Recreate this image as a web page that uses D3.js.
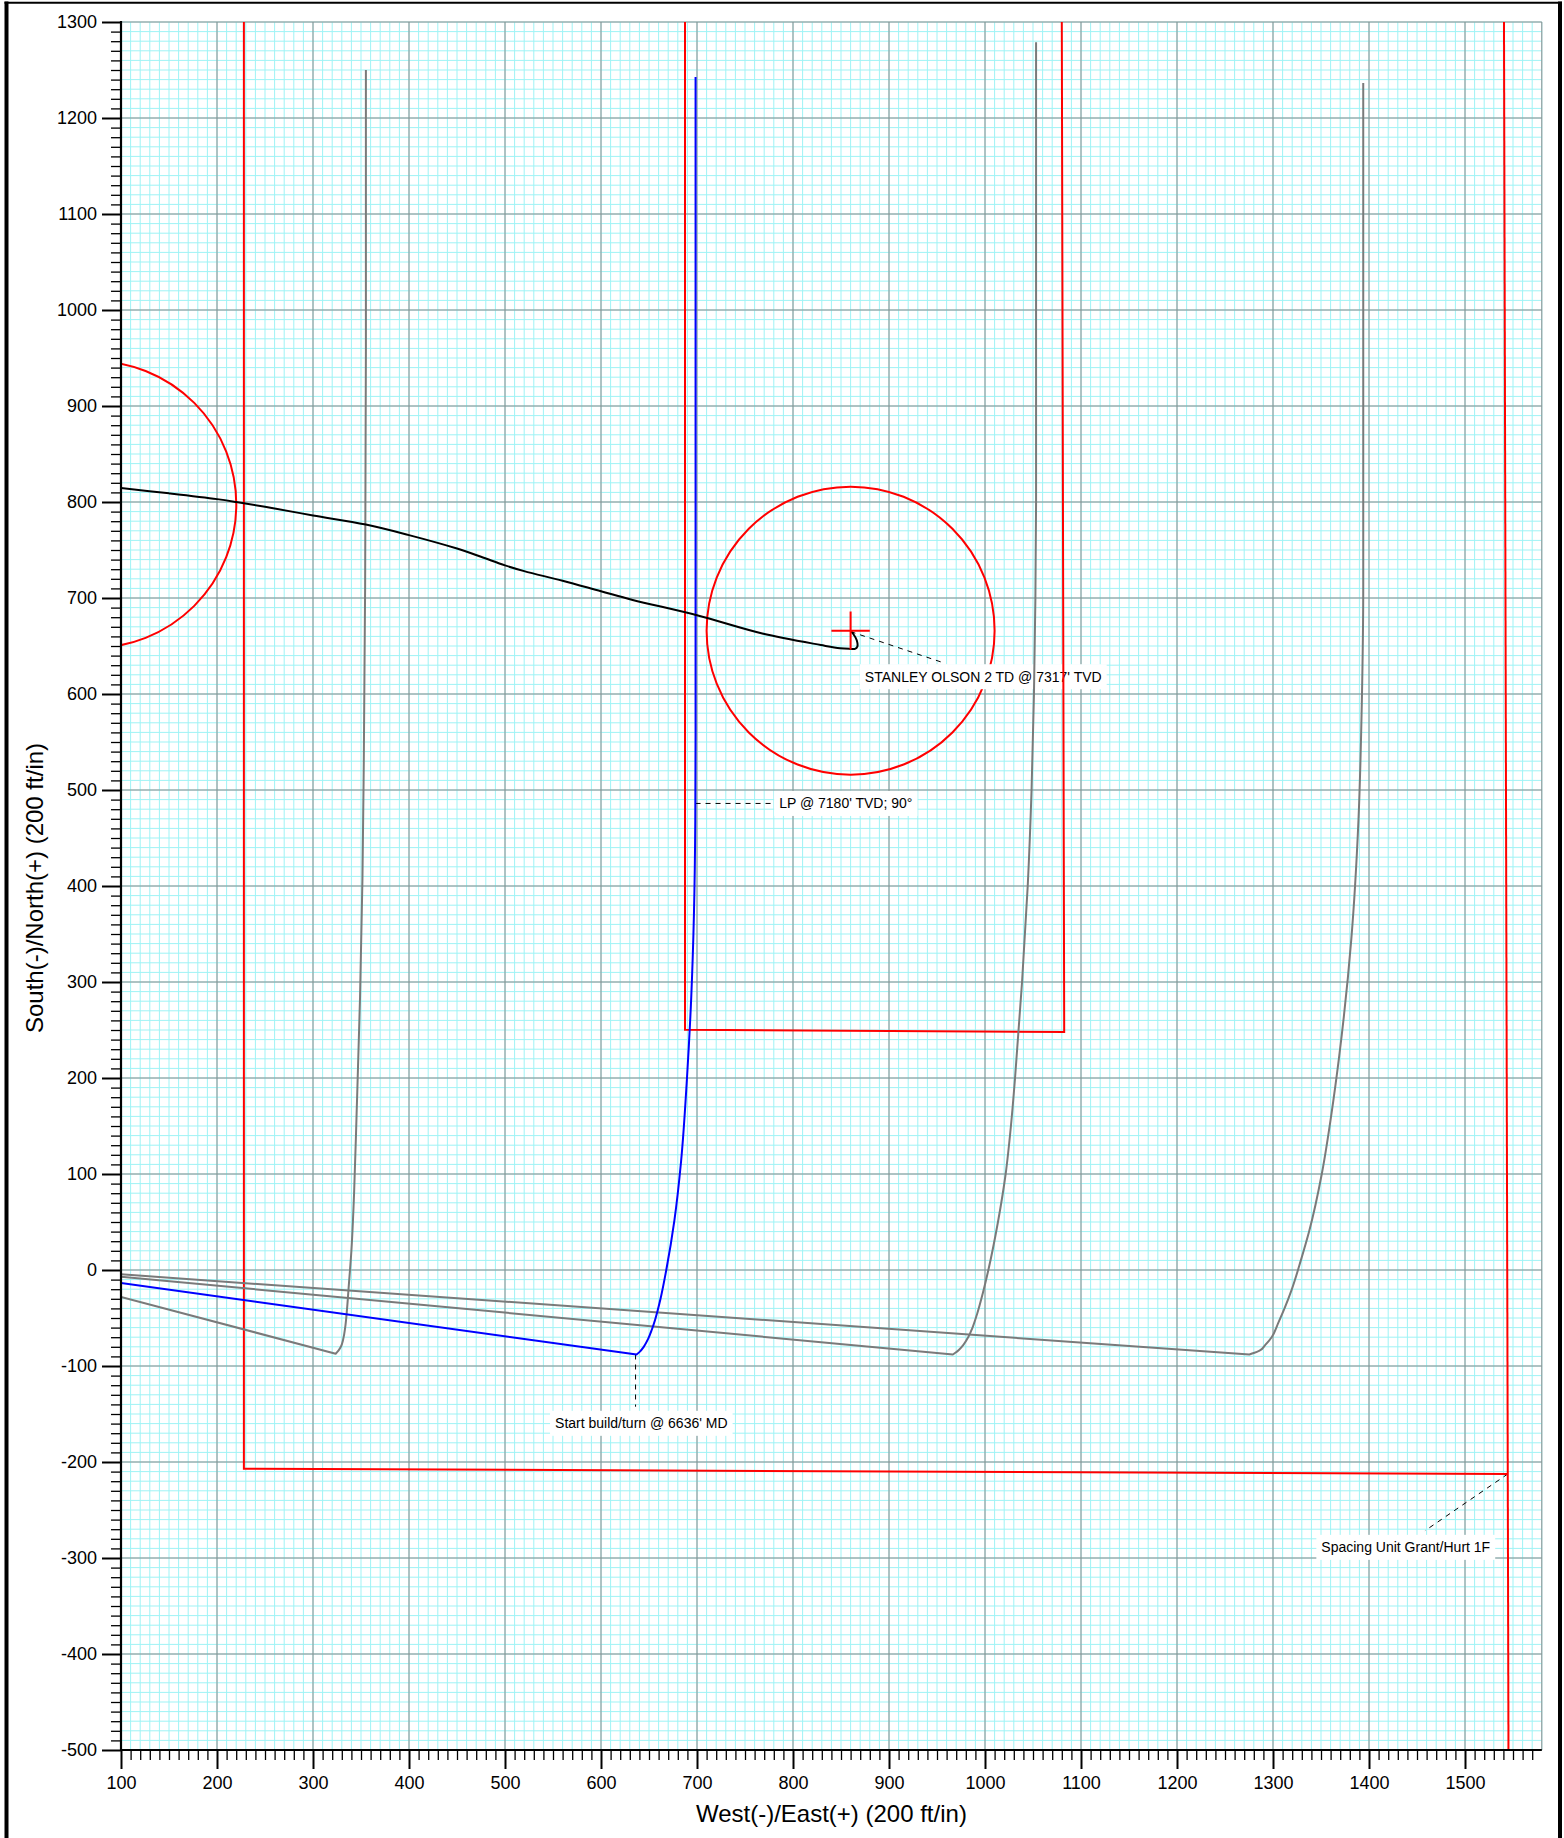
<!DOCTYPE html>
<html><head><meta charset="utf-8">
<script src="https://cdn.jsdelivr.net/npm/d3@7"></script>
<style>
body{margin:0;background:#fff}
svg{display:block}
text{font-family:Arial,"Liberation Sans",sans-serif;fill:#000}
</style>
</head><body>
<svg id="chart" width="1564" height="1838"></svg>
<script>
// ---------- data ----------
const xDomain = [100, 1580];
const yDomain = [-500, 1300];
const xTickValues = d3.range(100, 1501, 100);
const yTickValues = d3.range(-500, 1301, 100);
const minorStep = 10;

// offset well (black) - STANLEY OLSON 2
const blackWell = [[100,814.5],[150,809],[200,803],[220,800],[250,795],[300,786],[355,776.5],[400,765.5],[450,751.5],[475,743],[500,734],[520,728],[560,718],[600,707],[633,698],[700,682],[768,663],[829,651],[849,647.6],[859.4,647],[864.6,647],[867,649.3],[866.4,656],[862.8,662.5],[860,665.6]];

// planned wells: tangent start, bottom (start build/turn), then build curve to lateral end
const blueStart = [100,-13.5];
const blueCurve = [[637,-88],[640.5,-85],[644.5,-80],[649,-72],[653,-62],[656.3,-52],[662,-30],[668,0],[676.5,52],[683.4,113],[689.5,199],[694,284],[696.8,370],[698.2,468],[698.5,560],[698.5,1242.6]];

const grey1Start = [100,-28.1];
const grey1Curve = [[323.6,-87.2],[326.5,-84],[329,-80],[331.5,-72],[333.5,-60],[335.5,-40],[337,-20],[340,20],[342.8,80],[345.4,162],[349,284],[351.5,407],[352.9,529],[354.3,712],[355.1,957],[355.1,1250]];
const grey2Start = [100,-7];
const grey2Curve = [[966.6,-88],[969.5,-86],[973,-83],[977.5,-78],[982.5,-70],[987,-60],[992,-45],[997.5,-25],[1003.5,0],[1013.5,50],[1021.5,100],[1027,150],[1031.3,200],[1038.6,300],[1044.5,400],[1048.5,500],[1051,600],[1052.5,700],[1053.2,800],[1053.2,1279]];
const grey3Start = [100,-4.5];
const grey3Curve = [[1275.4,-88],[1280,-86.5],[1286,-84],[1292,-78],[1298.6,-70],[1305.5,-55],[1312,-40],[1319.3,-21],[1329,10],[1337.6,40],[1351,101],[1360.5,160],[1369,223],[1381.6,345],[1389,468],[1392.5,590],[1394,712],[1394,1236.5]];

// boundaries (red)
const spacingUnit = [[228,1300],[228,-207],[1544.5,-212.5]];
const spacingUnitEast = [[1540.6,1300],[1545.3,-500]];
const hardlines = [[687.5,1300],[687.5,250.3],[1082.5,247.8],[1080,1300]];
const circles = [{cx:860, cy:666, r:150},{cx:70.6, cy:797.5, r:149.5}];
const targetCross = {x:860, y:666, size:20};

// annotations
const labels = [
  {text:"STANLEY OLSON 2 TD @ 7317' TVD", x:998.2, y:618, from:[860,665], to:[958.3,632]},
  {text:"LP @ 7180' TVD; 90°", x:855, y:486, from:[698.5,486], to:[781,486]},
  {text:"Start build/turn @ 6636' MD", x:642, y:-159.7, from:[636,-88], to:[636,-142.4]},
  {text:"Spacing Unit Grant/Hurt 1F", x:1438.3, y:-288.9, from:[1544.5,-212.5], to:[1458.3,-271.6]}
];

// ---------- drawing ----------
const svg = d3.select("#chart");
const x = d3.scaleLinear().domain(xDomain).range([121, 1541.8]);
const y = d3.scaleLinear().domain(yDomain).range([1750, 22]);

svg.append("defs").append("clipPath").attr("id","plotClip")
  .append("rect").attr("x",x(xDomain[0])).attr("y",y(yDomain[1]))
  .attr("width",x(xDomain[1])-x(xDomain[0])).attr("height",y(yDomain[0])-y(yDomain[1]));

// outer frame
svg.append("line").attr("x1",6.5).attr("x2",6.5).attr("y1",1.5).attr("y2",1838).attr("stroke","#000").attr("stroke-width",4);
svg.append("line").attr("x1",1560).attr("x2",1560).attr("y1",1.5).attr("y2",1838).attr("stroke","#000").attr("stroke-width",4);
svg.append("line").attr("x1",4.5).attr("x2",1562).attr("y1",2.8).attr("y2",2.8).attr("stroke","#000").attr("stroke-width",2);

const plot = svg.append("g");

// minor grid
const minorX = d3.range(xDomain[0], xDomain[1] + 0.1, minorStep);
const minorY = d3.range(yDomain[0], yDomain[1] + 0.1, minorStep);
const gMinor = plot.append("g").attr("stroke","#9ff3f5").attr("stroke-width",1);
gMinor.selectAll("line.vx").data(minorX).join("line")
  .attr("x1",d=>x(d)).attr("x2",d=>x(d)).attr("y1",y(yDomain[0])).attr("y2",y(yDomain[1]));
gMinor.selectAll("line.hy").data(minorY).join("line")
  .attr("y1",d=>y(d)).attr("y2",d=>y(d)).attr("x1",x(xDomain[0])).attr("x2",x(xDomain[1]));

// major grid
const gMajor = plot.append("g").attr("stroke","#8c8c8c").attr("stroke-width",1);
gMajor.selectAll("line.mx").data(xTickValues.concat([xDomain[1]])).join("line")
  .attr("x1",d=>x(d)).attr("x2",d=>x(d)).attr("y1",y(yDomain[0])).attr("y2",y(yDomain[1]));
gMajor.selectAll("line.my").data(yTickValues).join("line")
  .attr("y1",d=>y(d)).attr("y2",d=>y(d)).attr("x1",x(xDomain[0])).attr("x2",x(xDomain[1]));

const clipped = plot.append("g").attr("clip-path","url(#plotClip)");

// circles
clipped.selectAll("circle.lease").data(circles).join("circle")
  .attr("cx",d=>x(d.cx)).attr("cy",d=>y(d.cy)).attr("r",d=>x(d.cx+d.r)-x(d.cx))
  .attr("fill","none").attr("stroke","#ff0000").attr("stroke-width",2);

// labels (white boxes under the lines)
const gLab = clipped.append("g");
labels.forEach(l => {
  gLab.append("line").attr("x1",x(l.from[0])).attr("y1",y(l.from[1]))
    .attr("x2",x(l.to[0])).attr("y2",y(l.to[1]))
    .attr("stroke","#000").attr("stroke-width",1).attr("stroke-dasharray","5,5");
  const g = gLab.append("g");
  const r = g.append("rect").attr("fill","#fff");
  const t = g.append("text").attr("x",x(l.x)).attr("y",y(l.y)).attr("dy","0.35em")
    .attr("text-anchor","middle").style("font-size","14px").text(l.text);
  const b = t.node().getBBox();
  r.attr("x",b.x-5).attr("y",y(l.y)-12.5).attr("width",b.width+10).attr("height",25);
});

const line = d3.line().x(d=>x(d[0])).y(d=>y(d[1]));
const smooth = d3.line().x(d=>x(d[0])).y(d=>y(d[1])).curve(d3.curveCatmullRom.alpha(0.5));
// build curves: monotone in y (drawn top -> bottom so pixel y increases)
const build = d3.line().x(d=>x(d[0])).y(d=>y(d[1])).curve(d3.curveMonotoneY);

// red boundaries
[spacingUnit, spacingUnitEast, hardlines].forEach(p => {
  clipped.append("path").attr("d",line(p)).attr("fill","none")
    .attr("stroke","#ff0000").attr("stroke-width",2);
});

function drawWell(start, curve, color, w) {
  const top = curve.slice().reverse();
  const d = build(top) + "L" + x(start[0]) + "," + y(start[1]);
  clipped.append("path").attr("d",d).attr("fill","none")
    .attr("stroke",color).attr("stroke-width",w).attr("stroke-linejoin","round");
}
drawWell(grey1Start, grey1Curve, "#7a7a7a", 2);
drawWell(grey2Start, grey2Curve, "#7a7a7a", 2);
drawWell(grey3Start, grey3Curve, "#7a7a7a", 2);
drawWell(blueStart, blueCurve, "#0000ff", 2);

clipped.append("path").attr("d",smooth(blackWell)).attr("fill","none")
  .attr("stroke","#000").attr("stroke-width",2);

// red cross
const s = targetCross.size;
clipped.append("path")
  .attr("d",line([[targetCross.x-s,targetCross.y],[targetCross.x+s,targetCross.y]]) + line([[targetCross.x,targetCross.y-s],[targetCross.x,targetCross.y+s]]))
  .attr("fill","none").attr("stroke","#ff0000").attr("stroke-width",2);

// axes
const minorTicksX = d3.range(100, 1571, 10).filter(v => v % 100 !== 0);
const minorTicksY = d3.range(-500, 1301, 10).filter(v => v % 100 !== 0);
const fmt = d => String(d);

const axY = svg.append("g").attr("transform",`translate(${x(xDomain[0])},0)`);
axY.call(d3.axisLeft(y).tickValues(minorTicksY).tickSize(10).tickSizeOuter(0).tickFormat(""));
const axYMajor = axY.append("g").call(d3.axisLeft(y).tickValues(yTickValues).tickSize(19).tickSizeOuter(0).tickPadding(5).tickFormat(fmt));
const axX = svg.append("g").attr("transform",`translate(0,${y(yDomain[0])})`);
axX.call(d3.axisBottom(x).tickValues(minorTicksX).tickSize(10).tickSizeOuter(0).tickFormat(""));
const axXMajor = axX.append("g").call(d3.axisBottom(x).tickValues(xTickValues).tickSize(19).tickSizeOuter(0).tickPadding(7).tickFormat(fmt));

svg.selectAll(".tick line").attr("stroke","#000").attr("stroke-width",1.3);
svg.selectAll(".domain").remove();
svg.selectAll(".tick text").style("font-size","18px").attr("fill","#000").style("font-family","Arial, 'Liberation Sans', sans-serif");
axYMajor.selectAll(".tick line").attr("stroke-width",2);
axXMajor.selectAll(".tick line").attr("stroke-width",2);

// axis lines
svg.append("line").attr("x1",x(xDomain[0])).attr("x2",x(xDomain[0])).attr("y1",y(yDomain[1])-1).attr("y2",y(yDomain[0])+1).attr("stroke","#000").attr("stroke-width",2.2);
svg.append("line").attr("x1",x(xDomain[0])-1).attr("x2",x(xDomain[1])).attr("y1",y(yDomain[0])).attr("y2",y(yDomain[0])).attr("stroke","#000").attr("stroke-width",2.2);

// axis titles
svg.append("text").attr("x",(x(xDomain[0])+x(xDomain[1]))/2).attr("y",1822)
  .attr("text-anchor","middle").style("font-size","24px").text("West(-)/East(+) (200 ft/in)");
svg.append("text").attr("transform","translate(43,888) rotate(-90)")
  .attr("text-anchor","middle").style("font-size","24px").text("South(-)/North(+) (200 ft/in)");
</script>
</body></html>
